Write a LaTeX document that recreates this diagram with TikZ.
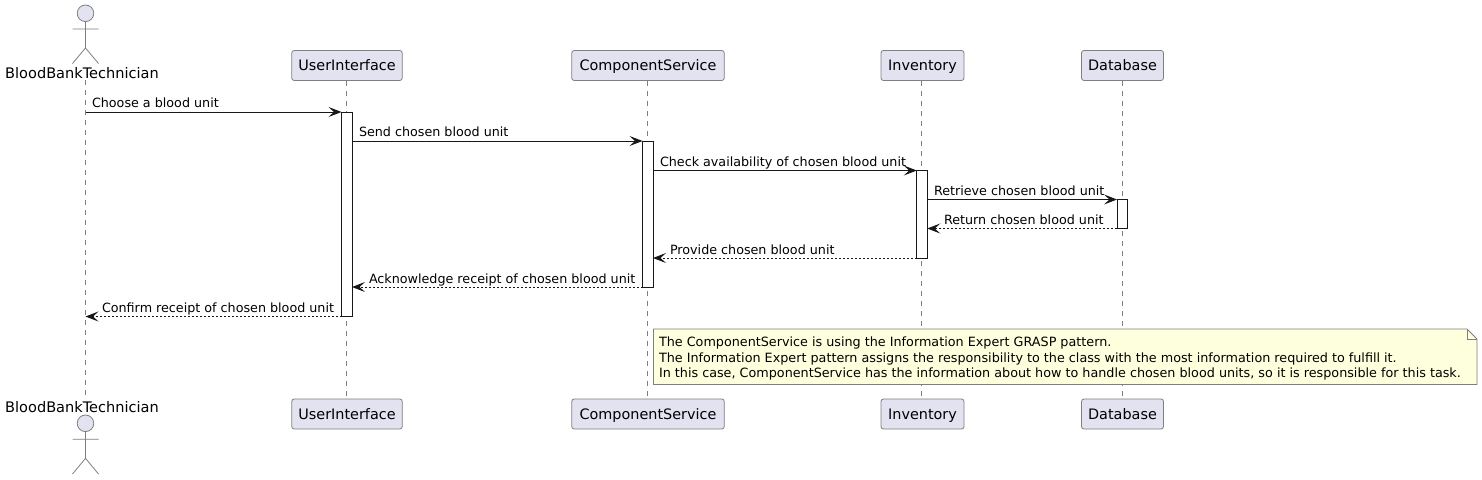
\documentclass[tikz,border=0pt]{standalone}
\usepackage{fontspec}
\setmainfont{DejaVu Sans}
\usetikzlibrary{arrows.meta,calc}
\definecolor{partfill}{HTML}{E2E2F0}
\definecolor{partline}{HTML}{7F7F7F}
\definecolor{notefill}{HTML}{FEFFDD}
\definecolor{ink}{HTML}{181818}
\tikzset{
  x=1pt,y=-1pt,
  every node/.style={outer sep=0pt,text=black},
  part/.style={draw=partline,fill=partfill,rounded corners=2.5pt,line width=.8pt,inner sep=0pt,minimum height=30pt,font=\fontsize{14.4}{16}\selectfont,text height=10.5pt,text depth=0pt},
  actorname/.style={inner sep=0pt,font=\fontsize{14.55}{16}\selectfont,text height=10.5pt,text depth=3pt},
  lifeline/.style={draw=partline,line width=.8pt,dash pattern=on 5pt off 5pt},
  actorbody/.style={draw=partline,line width=.8pt},
  actorhead/.style={draw=partline,fill=partfill,line width=.8pt,circle,minimum size=16.6pt,inner sep=0pt},
  bar/.style={draw=ink,fill=white,line width=.9pt,minimum width=10.5pt,inner sep=0pt},
  call/.style={draw=ink,line width=.9pt,-{Stealth[length=13pt,width=10pt,inset=5.5pt,fill=ink]}},
  reply/.style={call,dash pattern=on 2pt off 2pt},
  lab/.style={inner sep=0pt,anchor=base west,font=\fontsize{12.72}{15}\selectfont},
  notebox/.style={inner sep=0pt,anchor=north west,align=left,font=\fontsize{12.76}{15.5}\selectfont},
}
\begin{document}
\begin{tikzpicture}
\useasboundingbox[fill=white] (0,0) rectangle (1482,479);

% message levels
\coordinate (y1) at (0,112);
\coordinate (y2) at (0,141);
\coordinate (y3) at (0,170.5);
\coordinate (y4) at (0,199.5);
\coordinate (y5) at (0,228.5);
\coordinate (y6) at (0,258);
\coordinate (y7) at (0,287);
\coordinate (y8) at (0,316.5);

% lifeline ends
\coordinate (tTech) at (85.5,80);
\coordinate (bTech) at (85.5,398);

% participants, top and bottom
\node[part,minimum width=110.5pt] (tUI) at (347,65.5) {UserInterface};
\node[part,minimum width=152.5pt] (tCS) at (648,65.5) {ComponentService};
\node[part,minimum width=83pt]    (tIN) at (922.5,65.5) {Inventory};
\node[part,minimum width=82pt]    (tDB) at (1122.5,65.5) {Database};
\node[part,minimum width=110.5pt] (bUI) at (347,414) {UserInterface};
\node[part,minimum width=152.5pt] (bCS) at (648,414) {ComponentService};
\node[part,minimum width=83pt]    (bIN) at (922.5,414) {Inventory};
\node[part,minimum width=82pt]    (bDB) at (1122.5,414) {Database};

% lifelines
\coordinate (lUI) at (346.5,81);
\coordinate (lCS) at (647,81);
\coordinate (lIN) at (921.5,81);
\coordinate (lDB) at (1122,81);
\draw[lifeline] (tTech) -- (bTech);
\draw[lifeline] (lUI) -- (lUI |- bUI.north);
\draw[lifeline] (lCS) -- (lCS |- bCS.north);
\draw[lifeline] (lIN) -- (lIN |- bIN.north);
\draw[lifeline] (lDB) -- (lDB |- bDB.north);

% actors
\node[actorhead] (tHead) at (85.5,13.3) {};
\coordinate (tNeck) at (85.5,48);
\coordinate (tLL) at (72.5,63.5);
\coordinate (tLR) at (98.5,63.5);
\coordinate (tAL) at (72.5,29);
\coordinate (tAR) at (98.5,29);
\draw[actorbody] (tHead) -- (tNeck) (tAL) -- (tAR) (tLL) -- (tNeck) -- (tLR);
\node[actorname,anchor=base] (tName) at (82,78) {BloodBankTechnician};

\node[actorhead] (bHead) at (85.5,423.3) {};
\coordinate (bNeck) at (85.5,458.3);
\coordinate (bLL) at (72.5,474);
\coordinate (bLR) at (98.5,474);
\coordinate (bAL) at (72.5,439.3);
\coordinate (bAR) at (98.5,439.3);
\draw[actorbody] (bHead) -- (bNeck) (bAL) -- (bAR) (bLL) -- (bNeck) -- (bLR);
\node[actorname,anchor=base] (bName) at (82,412) {BloodBankTechnician};

% activation bars
\node[bar,minimum height=204.5pt] (aUI) at (346.75,214.25) {};
\node[bar,minimum height=146pt]   (aCS) at (647.75,214) {};
\node[bar,minimum height=87.5pt]  (aIN) at (922,214.25) {};
\node[bar,minimum height=29pt]    (aDB) at (1122.25,214) {};

% messages
\draw[call] (tTech |- y1) -- (aUI.north west);
\node[lab] (t1) at (92,107) {Choose a blood unit};
\draw[call] (aUI.east |- y2) -- (aCS.north west);
\node[lab] (t2) at (359,136) {Send chosen blood unit};
\draw[call] (aCS.east |- y3) -- (aIN.north west);
\node[lab] (t3) at (660,166) {Check availability of chosen blood unit};
\draw[call] (aIN.east |- y4) -- (aDB.north west);
\node[lab] (t4) at (934,195.5) {Retrieve chosen blood unit};
\draw[reply] (aDB.south west) -- (aIN.east |- y5);
\node[lab] (t5) at (944,224.5) {Return chosen blood unit};
\draw[reply] (aIN.south west) -- (aCS.east |- y6);
\node[lab] (t6) at (670,254) {Provide chosen blood unit};
\draw[reply] (aCS.south west) -- (aUI.east |- y7);
\node[lab] (t7) at (369,283) {Acknowledge receipt of chosen blood unit};
\draw[reply] (aUI.south west) -- (tTech |- y8);
\node[lab] (t8) at (102,312) {Confirm receipt of chosen blood unit};

% note
\coordinate (nNW) at (653.5,329);
\coordinate (nSE) at (1477,384.5);
\coordinate (nFa) at (1467,329);
\coordinate (nFb) at (1477,339);
\coordinate (nFc) at (1467,339);
\draw[draw=partline,fill=notefill,line width=.8pt] (nNW) -- (nFa) -- (nFb) -- (nSE) -- (nNW |- nSE) -- cycle;
\draw[draw=partline,line width=.8pt] (nFa) -- (nFc) -- (nFb);
\node[notebox] (note) at (659,337) {The ComponentService is using the Information Expert GRASP pattern.\\
The Information Expert pattern assigns the responsibility to the class with the most information required to fulfill it.\\
In this case, ComponentService has the information about how to handle chosen blood units, so it is responsible for this task.};
\end{tikzpicture}
\end{document}
